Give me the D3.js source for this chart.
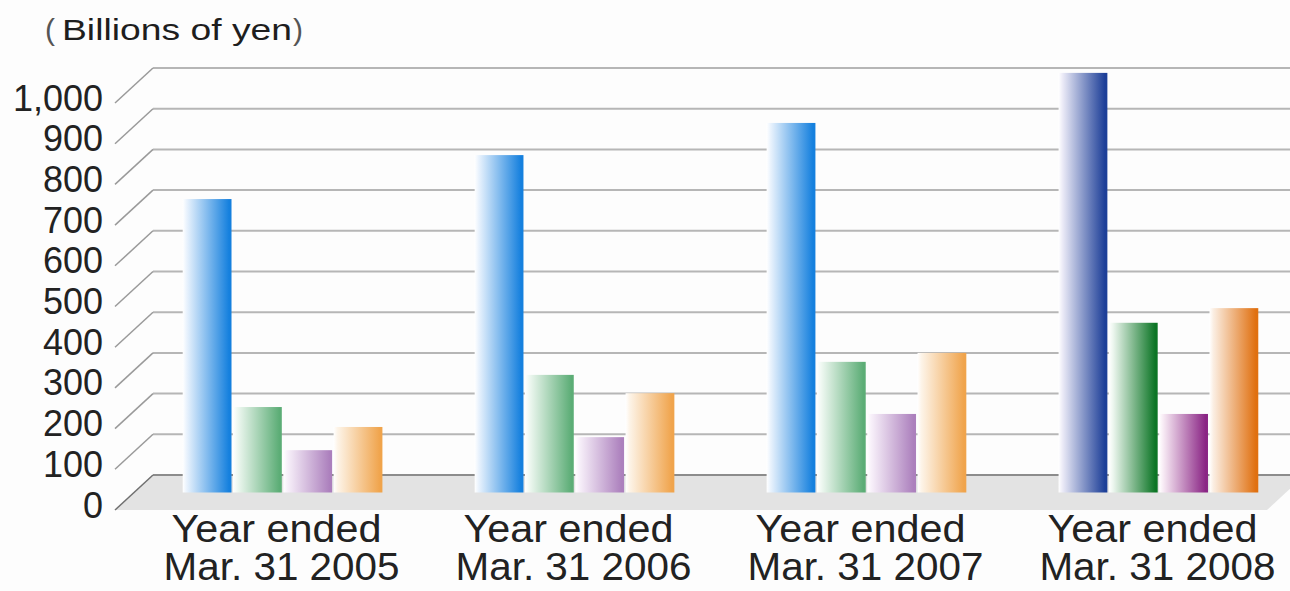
<!DOCTYPE html>
<html>
<head>
<meta charset="utf-8">
<script src="https://cdn.jsdelivr.net/npm/d3@7"></script>
<style>
  html, body { margin: 0; padding: 0; background: #fdfdfd; }
  svg { display: block; font-family: "Liberation Sans", Arial, sans-serif; }
</style>
</head>
<body>
<div class="chart"></div>
<script>
const years = ['2005', '2006', '2007', '2008']
const series = ['s1', 's2', 's3', 's4']
const values = {
    s1: [721, 829, 908, 1031],
    s2: [210, 289, 321, 417],
    s3: [104, 136, 193, 193],
    s4: [161, 244, 343, 453]
}
const yTicks = [0, 100, 200, 300, 400, 500, 600, 700, 800, 900, 1000]

// light / dark ends of each bar gradient, last year is drawn darker
const colours = {
    s1: [['#eaf3fd', '#1580de'], ['#ecebf7', '#1d3f98']],
    s2: [['#f1f9f3', '#5cad76'], ['#eef7f0', '#0c7525']],
    s3: [['#f8f1fa', '#ac80bd'], ['#f8ecf5', '#8a2585']],
    s4: [['#fdf4e8', '#f0a44c'], ['#fbeee2', '#e07010']]
}

const width = 1290
const height = 591
const depthX = 38
const depthY = 35

const svg = d3.select('.chart').append('svg').attr('width', width).attr('height', height)
const defs = svg.append('defs')

// mid plane scales (bars sit half way into the floor)
const x = d3.scaleBand().domain(years).range([136, 1305]).paddingInner(0.316).paddingOuter(0.16)
const xs = d3.scaleBand().domain(series).range([0, x.bandwidth()]).paddingInner(0.03)
const y = d3.scaleLinear().domain([0, 1000]).range([492.5, 85.5])

const backY = v => y(v) - depthY / 2
const frontY = v => y(v) + depthY / 2
const backLeft = 153
const frontLeft = backLeft - depthX

// floor
const floorPts = [
    [frontLeft, frontY(0)], [backLeft, backY(0)],
    [1267 + depthX, backY(0)], [1267, frontY(0)]
]
svg.append('polygon')
    .attr('points', floorPts.map(p => p.join(',')).join(' '))
    .attr('fill', '#e3e3e3')

// grid
const grid = svg.append('g')
grid.selectAll('line.h')
    .data(yTicks)
    .enter()
    .append('line')
    .classed('h', true)
    .attr('x1', backLeft)
    .attr('x2', width)
    .attr('y1', d => backY(d))
    .attr('y2', d => backY(d))
    .attr('stroke', d => d === 0 ? '#8c8c8c' : '#b6b6b6')
    .attr('stroke-width', 2)

grid.selectAll('line.s')
    .data(yTicks)
    .enter()
    .append('line')
    .classed('s', true)
    .attr('x1', frontLeft)
    .attr('x2', backLeft)
    .attr('y1', d => frontY(d))
    .attr('y2', d => backY(d))
    .attr('stroke', d => d === 0 ? '#707070' : '#9a9a9a')
    .attr('stroke-width', 1.5)

grid.selectAll('text.tick')
    .data(yTicks)
    .enter()
    .append('text')
    .classed('tick', true)
    .attr('x', 103)
    .attr('y', d => frontY(d) - 5)
    .attr('text-anchor', 'end')
    .attr('dominant-baseline', 'central')
    .attr('font-size', 36)
    .attr('fill', '#222')
    .text(d => d3.format(',')(d))

// gradients
years.forEach((yr, i) => {
    series.forEach(s => {
        const c = colours[s][i === years.length - 1 ? 1 : 0]
        const grad = defs.append('linearGradient')
            .attr('id', `g-${s}-${yr}`)
            .attr('x1', 0).attr('x2', 1).attr('y1', 0).attr('y2', 0)
        grad.append('stop').attr('offset', 0).attr('stop-color', '#ffffff')
        grad.append('stop').attr('offset', 0.08).attr('stop-color', c[0])
        grad.append('stop').attr('offset', 0.95).attr('stop-color', c[1])
        grad.append('stop').attr('offset', 1).attr('stop-color', c[1])
    })
})

// bars
const groups = svg.selectAll('g.year')
    .data(years)
    .enter()
    .append('g')
    .classed('year', true)
    .attr('transform', d => `translate(${x(d)} 0)`)

groups.selectAll('rect')
    .data((yr, i) => series.map(s => ({ s, yr, v: values[s][i] })))
    .enter()
    .append('rect')
    .attr('x', d => xs(d.s))
    .attr('width', xs.bandwidth())
    .attr('y', d => y(d.v))
    .attr('height', d => y(0) - y(d.v))
    .attr('fill', d => `url(#g-${d.s}-${d.yr})`)

// category labels, two lines set tight like the original
const labels = svg.selectAll('text.cat')
    .data(years)
    .enter()
    .append('text')
    .classed('cat', true)
    .attr('font-size', 38)
    .attr('fill', '#222')
    .attr('text-anchor', 'middle')

labels.append('tspan')
    .attr('x', d => x(d) + x.bandwidth() / 2 - 6)
    .attr('y', 542)
    .attr('textLength', 210)
    .attr('lengthAdjust', 'spacingAndGlyphs')
    .text('Year ended')
labels.append('tspan')
    .attr('x', d => x(d) + x.bandwidth() / 2 - 1)
    .attr('y', 580)
    .attr('textLength', 236)
    .attr('lengthAdjust', 'spacingAndGlyphs')
    .text(d => `Mar. 31 ${d}`)

// unit title
const title = svg.append('text').attr('y', 40).attr('font-size', 30).attr('fill', '#1e1e1e')
title.append('tspan').attr('x', 45).attr('fill', '#555').text('(')
title.append('tspan').attr('x', 62).attr('textLength', 230).attr('lengthAdjust', 'spacingAndGlyphs').text('Billions of yen')
title.append('tspan').attr('x', 293).attr('fill', '#555').text(')')
</script>
</body>
</html>
